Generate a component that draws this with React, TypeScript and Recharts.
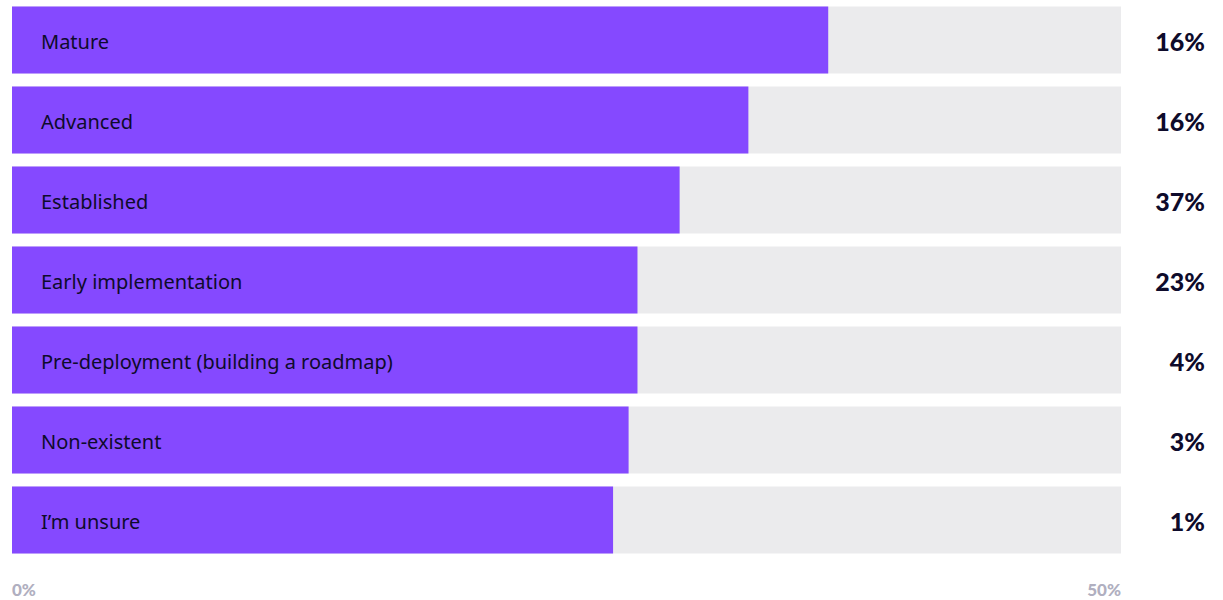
import React from 'react';
import { BarChart, Bar, XAxis, YAxis, LabelList } from 'recharts';

const categories = [
  'Mature',
  'Advanced',
  'Established',
  'Early implementation',
  'Pre-deployment (building a roadmap)',
  'Non-existent',
  'I\u2019m unsure',
];
// bar lengths as drawn (axis 0–50%)
const barValues = [36.8, 33.2, 30.1, 28.2, 28.2, 27.8, 27.1];
// percentages printed on the right
const shownLabels = ['16%', '16%', '37%', '23%', '4%', '3%', '1%'];
const xTicks = [0, 50];

const data = categories.map((name, i) => ({
  name,
  value: barValues[i],
  label: shownLabels[i],
}));

const purple = '#8549FF';
const track = '#EBEBED';
const ink = '#0E0B2B';

const RightTick = ({ x, y, payload }: any) => (
  <text
    x={x + 84}
    y={y}
    dy={1}
    textAnchor='end'
    dominantBaseline='central'
    fill={ink}
    fontFamily='Lato'
    fontWeight={900}
    fontSize={25}
  >
    {payload.value}
  </text>
);

const BottomTick = ({ x, y, payload }: any) => (
  <text
    x={x}
    y={y + 28}
    textAnchor={payload.value === 0 ? 'start' : 'end'}
    fill='#B0AFC0'
    fontFamily='Lato'
    fontWeight={900}
    fontSize={17}
  >
    {payload.value + '%'}
  </text>
);

export default function App() {
  return (
    <div style={{ position: 'absolute', left: 0, top: 0, background: '#fff' }}>
      <BarChart
        width={1223}
        height={600}
        layout='vertical'
        data={data}
        margin={{ top: 0, right: 0, left: 12, bottom: 0 }}
        barCategoryGap={6.5}
      >
        <XAxis
          type='number'
          domain={[0, 50]}
          ticks={xTicks}
          axisLine={false}
          tickLine={false}
          tick={<BottomTick />}
          height={40}
        />
        <YAxis type='category' dataKey='name' hide />
        <YAxis
          yAxisId='right'
          type='category'
          dataKey='label'
          orientation='right'
          width={102}
          axisLine={false}
          tickLine={false}
          tickSize={0}
          tickMargin={0}
          tick={<RightTick />}
        />
        <Bar
          dataKey='value'
          fill={purple}
          background={{ fill: track }}
          isAnimationActive={false}
        >
          <LabelList
            dataKey='name'
            position='insideLeft'
            offset={29}
            fill={ink}
            fontFamily='Noto Sans'
            fontSize={20}
            dy={2}
          />
        </Bar>
      </BarChart>
    </div>
  );
}
